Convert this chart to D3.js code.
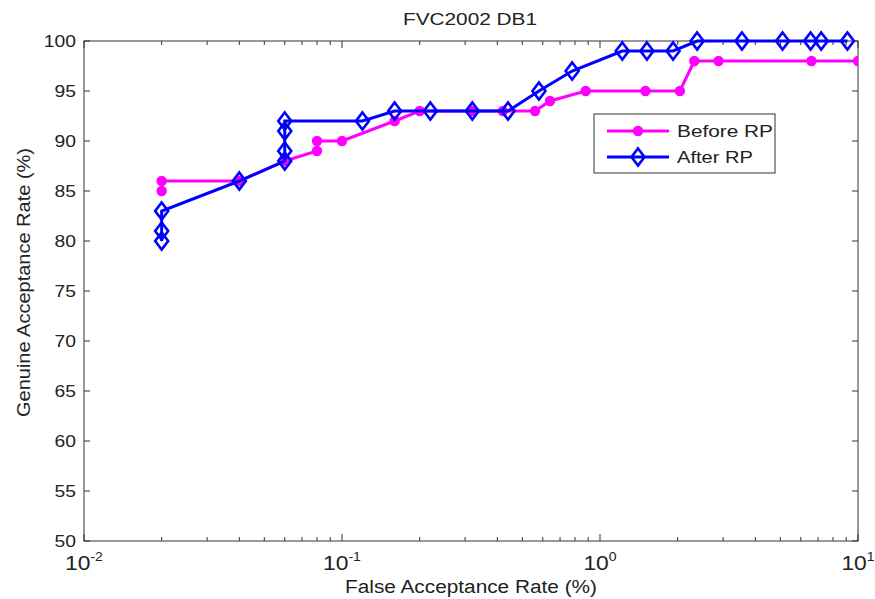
<!DOCTYPE html>
<html><head><meta charset="utf-8">
<script src="https://cdn.jsdelivr.net/npm/d3@7"></script>
<style>body{margin:0;background:#fff}svg{display:block}text{font-family:"Liberation Sans",Arial,sans-serif;fill:#222}</style>
</head><body><svg id="c" width="875" height="599"></svg>
<script>
const title = "FVC2002 DB1";
const xLabel = "False Acceptance Rate (%)";
const yLabel = "Genuine Acceptance Rate (%)";
const yTicks = [50,55,60,65,70,75,80,85,90,95,100];
const xDecades = [-2,-1,0,1];
const beforeFAR = [0.02,0.02,0.04,0.06,0.08,0.08,0.1,0.16,0.2,0.32,0.42,0.56,0.64,0.88,1.5,2.04,2.32,2.88,6.6,10];
const beforeGAR = [85,86,86,88,89,90,90,92,93,93,93,93,94,95,95,95,98,98,98,98];
const afterFAR = [0.02,0.02,0.02,0.04,0.06,0.06,0.06,0.06,0.12,0.16,0.22,0.32,0.44,0.58,0.78,1.22,1.52,1.92,2.38,3.55,5.1,6.55,7.2,9.1];
const afterGAR = [80,81,83,86,88,89,91,92,92,93,93,93,93,95,97,99,99,99,100,100,100,100,100,100];
const seriesNames = ["Before RP","After RP"];
const colors = ["#ff00ff","#0000ff"];

const svg = d3.select("#c");
const L=84,R=858,T=41,B=541;
const x = d3.scaleLog().domain([0.01,10]).range([L,R]);
const y = d3.scaleLinear().domain([50,100]).range([B,T]);
const axisCol="#333";
const SX = 1.17;

svg.append("rect").attr("x",L).attr("y",T).attr("width",R-L).attr("height",B-T)
  .attr("fill","#fff").attr("stroke",axisCol).attr("stroke-width",1);

const gy = svg.append("g");
yTicks.forEach(v=>{
  gy.append("line").attr("x1",L).attr("x2",L+6).attr("y1",y(v)).attr("y2",y(v)).attr("stroke",axisCol);
  gy.append("line").attr("x1",R).attr("x2",R-6).attr("y1",y(v)).attr("y2",y(v)).attr("stroke",axisCol);
  gy.append("text").attr("transform",`translate(${L-8},${y(v)+6}) scale(${SX},1)`)
    .attr("text-anchor","end").attr("font-size",16.5).text(v);
});
const gx = svg.append("g");
xDecades.forEach((d,i)=>{
  const base = Math.pow(10,d);
  const xp = x(base);
  gx.append("line").attr("x1",xp).attr("x2",xp).attr("y1",B).attr("y2",B-7).attr("stroke",axisCol);
  gx.append("line").attr("x1",xp).attr("x2",xp).attr("y1",T).attr("y2",T+7).attr("stroke",axisCol);
  const t = gx.append("text").attr("transform",`translate(${xp},570) scale(${SX},1)`).attr("text-anchor","middle").attr("font-size",19.5);
  t.append("tspan").text("10");
  t.append("tspan").attr("dy",-9).attr("font-size",12).text(d);
  if(i<xDecades.length-1){
    for(let m=2;m<=9;m++){
      const mp = x(base*m);
      gx.append("line").attr("x1",mp).attr("x2",mp).attr("y1",B).attr("y2",B-4).attr("stroke",axisCol);
      gx.append("line").attr("x1",mp).attr("x2",mp).attr("y1",T).attr("y2",T+4).attr("stroke",axisCol);
    }
  }
});

svg.append("text").attr("x",470).attr("y",25).attr("text-anchor","middle").attr("font-size",16.5)
  .attr("textLength",134).attr("lengthAdjust","spacingAndGlyphs").text(title);
svg.append("text").attr("x",471).attr("y",593).attr("text-anchor","middle").attr("font-size",18)
  .attr("textLength",252).attr("lengthAdjust","spacingAndGlyphs").text(xLabel);
svg.append("text").attr("transform",`translate(30,282.5) rotate(-90)`).attr("text-anchor","middle").attr("font-size",18)
  .attr("textLength",269).attr("lengthAdjust","spacingAndGlyphs").text(yLabel);

const line = d3.line().x(d=>x(d[0])).y(d=>y(d[1]));
const before = beforeFAR.map((v,i)=>[v,beforeGAR[i]]);
const after = afterFAR.map((v,i)=>[v,afterGAR[i]]);

svg.append("clipPath").attr("id","cp").append("rect").attr("x",L).attr("y",T-8).attr("width",R-L).attr("height",B-T+16);

function diamond(g,cx,cy,col){
  const w=6.5,h=8.5;
  g.append("path").attr("d",`M${cx},${cy-h}L${cx+w},${cy}L${cx},${cy+h}L${cx-w},${cy}Z`)
    .attr("fill","none").attr("stroke",col).attr("stroke-width",2.6);
}

const g1 = svg.append("g").attr("clip-path","url(#cp)");
g1.append("path").datum(before).attr("d",line).attr("fill","none").attr("stroke",colors[0]).attr("stroke-width",3);
before.forEach(d=>g1.append("circle").attr("cx",x(d[0])).attr("cy",y(d[1])).attr("r",5.2).attr("fill",colors[0]));
const g2 = svg.append("g");
g2.append("path").datum(after).attr("d",line).attr("fill","none").attr("stroke",colors[1]).attr("stroke-width",3);
after.forEach(d=>diamond(g2,x(d[0]),y(d[1]),colors[1]));

const lg = svg.append("g");
lg.append("rect").attr("x",594).attr("y",114).attr("width",181).attr("height",59).attr("fill","#fff").attr("stroke",axisCol);
const legW = [96,76];
[131,157].forEach((ly,i)=>{
  lg.append("line").attr("x1",607).attr("x2",669).attr("y1",ly).attr("y2",ly).attr("stroke",colors[i]).attr("stroke-width",3);
  if(i===0) lg.append("circle").attr("cx",638).attr("cy",ly).attr("r",5.2).attr("fill",colors[0]);
  else diamond(lg,638,ly,colors[1]);
  lg.append("text").attr("x",677).attr("y",ly+6).attr("font-size",16.5)
    .attr("textLength",legW[i]).attr("lengthAdjust","spacingAndGlyphs").text(seriesNames[i]);
});
</script></body></html>
